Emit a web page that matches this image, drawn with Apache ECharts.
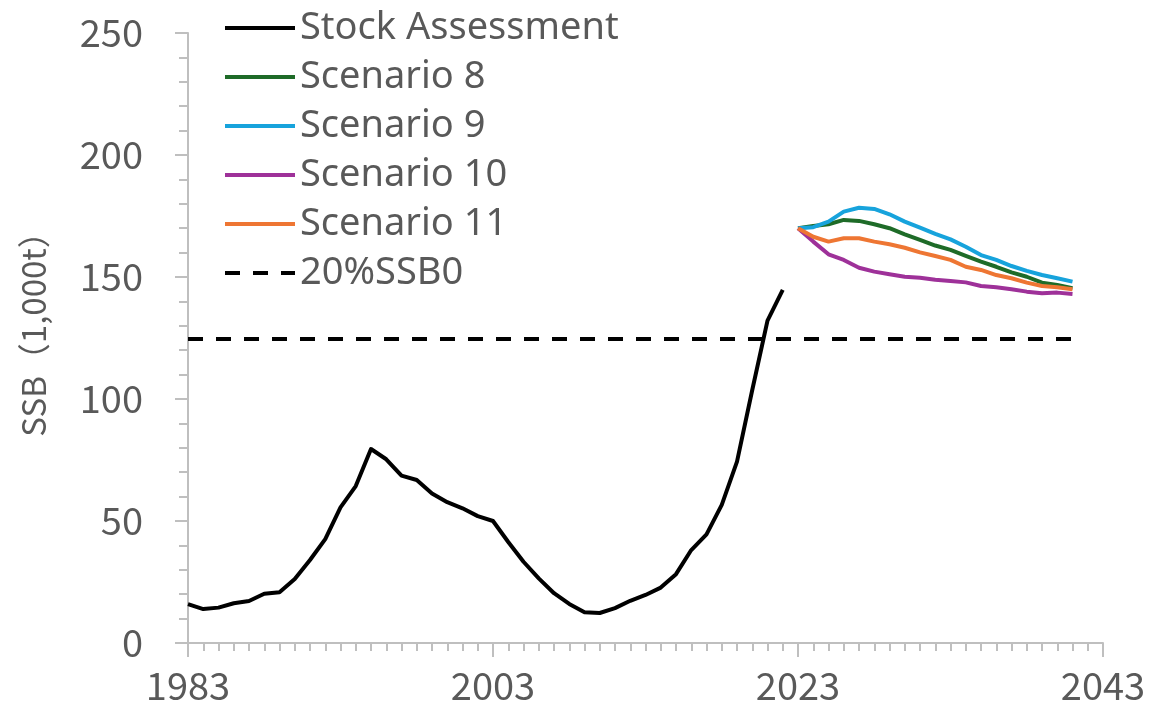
<!DOCTYPE html>
<html>
<head>
<meta charset="utf-8">
<style>
  html, body { margin: 0; padding: 0; background: #fff; }
  #chart { width: 1152px; height: 708px; }
</style>
<script src="https://cdn.jsdelivr.net/npm/echarts@6/dist/echarts.min.js"></script>
</head>
<body>
<div id="chart"></div>
<script>
// Spawning stock biomass (1,000 t): assessment history and projection scenarios
const assessYears = [];
for (let y = 1983; y <= 2022; y++) assessYears.push(y);
const stockAssessment = [
  15.9, 13.9, 14.5, 16.3, 17.2, 20.2, 20.8, 26.2, 34.0, 42.6,
  55.6, 64.3, 79.5, 75.3, 68.6, 66.8, 61.3, 57.7, 55.2, 52.0,
  50.0, 41.4, 33.3, 26.5, 20.4, 16.0, 12.6, 12.3, 14.3, 17.3,
  19.7, 22.7, 28.2, 38.1, 44.5, 56.6, 74.3, 103.7, 132.1, 144.7
];

const projYears = [];
for (let y = 2023; y <= 2041; y++) projYears.push(y);
const scenario8 = [
  170.0, 170.9, 171.6, 173.4, 173.0, 171.6, 170.0, 167.5, 165.2, 162.9,
  161.1, 158.7, 156.3, 154.2, 151.9, 150.1, 147.7, 146.7, 145.4
];
const scenario9 = [
  170.0, 170.4, 172.7, 176.8, 178.4, 177.9, 175.7, 172.7, 170.2, 167.7,
  165.4, 162.4, 159.0, 157.0, 154.5, 152.5, 150.8, 149.5, 148.1
];
const scenario10 = [
  170.0, 164.5, 159.3, 157.0, 153.8, 152.2, 151.1, 150.1, 149.7, 148.9,
  148.4, 147.8, 146.3, 145.8, 145.0, 144.0, 143.3, 143.6, 143.0
];
const scenario11 = [
  170.0, 166.5, 164.5, 165.9, 165.9, 164.5, 163.4, 162.0, 160.1, 158.6,
  157.0, 154.2, 152.9, 150.8, 149.5, 147.7, 146.3, 145.8, 145.0
];

// Limit reference point (20% of unfished SSB) and the span it is drawn over
const refYears = [1983, 2041];
const ssb0Ref = 124.6;

const seriesNames = ['Stock Assessment', 'Scenario 8', 'Scenario 9', 'Scenario 10', 'Scenario 11', '20%SSB0'];
const seriesColors = ['#000000', '#1E6B28', '#17A3DC', '#9E3199', '#EE7633', '#000000'];

const zip = (xs, ys) => xs.map((x, i) => [x, ys[i]]);

const FONT = '"Noto Sans CJK JP", "Noto Sans", sans-serif';
const LEGEND_FONT = '"Noto Sans", "Noto Sans CJK JP", sans-serif';
const TEXT = '#595959';
const AXIS = '#BFBFBF';

function lineSeries(name, data, color, extra) {
  return Object.assign({
    name: name,
    type: 'line',
    data: data,
    symbol: 'none',
    smooth: false,
    animation: false,
    color: color,
    lineStyle: { color: color, width: 4, join: 'round' }
  }, extra || {});
}

const chart = echarts.init(document.getElementById('chart'), null, { renderer: 'canvas' });
chart.setOption({
  backgroundColor: '#ffffff',
  animation: false,
  grid: { left: 188, right: 49, top: 33, bottom: 65, containLabel: false, outerBoundsMode: 'none' },
  legend: {
    orient: 'vertical',
    left: 223,
    top: 8,
    padding: 0,
    itemWidth: 70,
    itemHeight: 14,
    itemGap: 9,
    data: seriesNames,
    textStyle: { color: TEXT, fontSize: 38, fontFamily: LEGEND_FONT, lineHeight: 40 },
    itemStyle: { opacity: 0 },
    lineStyle: { width: 4 }
  },
  xAxis: {
    type: 'value',
    min: 1983,
    max: 2043,
    interval: 20,
    axisLine: { show: true, lineStyle: { color: AXIS, width: 2 } },
    axisTick: { show: true, length: 14, lineStyle: { color: AXIS, width: 2 } },
    minorTick: { show: true, splitNumber: 20, length: 8, lineStyle: { color: AXIS, width: 2 } },
    splitLine: { show: false },
    axisLabel: {
      color: TEXT, fontSize: 38, margin: 24, fontFamily: FONT,
      formatter: v => String(v)
    }
  },
  yAxis: {
    type: 'value',
    min: 0,
    max: 250,
    interval: 50,
    name: 'SSB（1,000t）',
    nameLocation: 'middle',
    nameGap: 138,
    nameRotate: 90,
    nameTextStyle: { color: TEXT, fontSize: 33, fontFamily: FONT, padding: [0, 0, 0, 24] },
    axisLine: { show: true, lineStyle: { color: AXIS, width: 2 } },
    axisTick: { show: true, length: 13, lineStyle: { color: AXIS, width: 2 } },
    minorTick: { show: true, splitNumber: 5, length: 9, lineStyle: { color: AXIS, width: 2 } },
    splitLine: { show: false },
    axisLabel: { color: TEXT, fontSize: 38, fontFamily: FONT, margin: 45 }
  },
  series: [
    lineSeries(seriesNames[0], zip(assessYears, stockAssessment), seriesColors[0]),
    lineSeries(seriesNames[1], zip(projYears, scenario8), seriesColors[1]),
    lineSeries(seriesNames[2], zip(projYears, scenario9), seriesColors[2]),
    lineSeries(seriesNames[3], zip(projYears, scenario10), seriesColors[3]),
    lineSeries(seriesNames[4], zip(projYears, scenario11), seriesColors[4]),
    lineSeries(seriesNames[5], refYears.map(y => [y, ssb0Ref]), seriesColors[5], {
      lineStyle: { color: seriesColors[5], width: 4, type: [15, 13] }
    })
  ]
});
</script>
</body>
</html>
